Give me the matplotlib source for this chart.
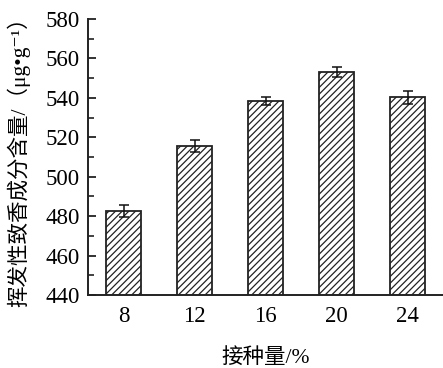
import matplotlib
matplotlib.use("Agg")
import matplotlib.pyplot as plt
from matplotlib.ticker import MultipleLocator

categories = ["8", "12", "16", "20", "24"]
values = [482.6, 515.6, 538.3, 553.3, 540.2]
errors = [2.8, 3.0, 2.0, 2.5, 3.2]
y_ticks = [440, 460, 480, 500, 520, 540, 560, 580]

plt.rcParams['font.family'] = ['Liberation Serif', 'Noto Sans CJK SC', 'DejaVu Sans']
plt.rcParams['hatch.linewidth'] = 0.9

fig = plt.figure(figsize=(4.43, 3.68), dpi=100)
ax = fig.add_axes([88/443, 73/368, 355/443, 276/368])

x = list(range(len(categories)))
ax.bar(x, values, width=0.5, bottom=0, color='white', edgecolor='#222222',
       linewidth=1.3, hatch='/////', zorder=2)
ax.errorbar(x, values, yerr=errors, fmt='none', ecolor='#111111',
            elinewidth=1.1, capsize=3.5, capthick=1.1, zorder=3)

ax.set_xlim(-0.5, 4.5)
ax.set_ylim(440, 580)
ax.set_yticks(y_ticks)
ax.yaxis.set_minor_locator(MultipleLocator(10))
ax.set_xticks(x)
ax.set_xticklabels(categories)

for s in ['top', 'right']:
    ax.spines[s].set_visible(False)
for s in ['left', 'bottom']:
    ax.spines[s].set_linewidth(1.4)
    ax.spines[s].set_color('#222222')

ax.tick_params(axis='y', which='major', direction='in', length=6, width=1.3,
               labelsize=16.5, pad=6, color='#222222')
ax.tick_params(axis='y', which='minor', direction='in', length=4, width=1.2,
               color='#222222')
ax.tick_params(axis='x', which='major', direction='in', length=3, width=1.0,
               labelsize=16.5, pad=8, color='#222222')

ax.set_ylabel('挥发性致香成分含量/（μg•g⁻¹）', fontsize=15.5, labelpad=11)
ax.set_xlabel('接种量/%', fontsize=15.5, labelpad=15)

fig.savefig('out.png', dpi=100)
